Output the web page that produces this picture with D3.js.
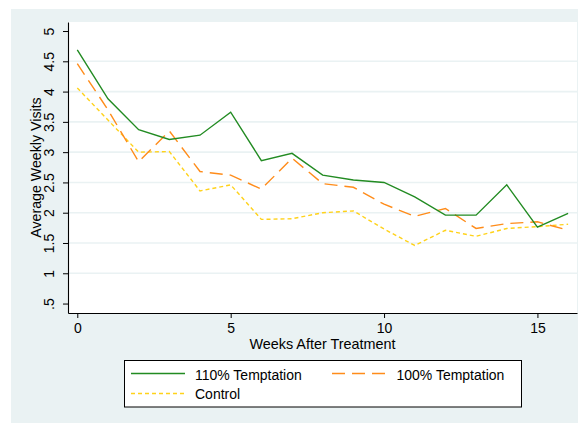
<!DOCTYPE html>
<html>
<head>
<meta charset="utf-8">
<script src="https://cdn.jsdelivr.net/npm/d3@7"></script>
<style>
  html, body { margin: 0; padding: 0; background: #ffffff; }
  svg { display: block; font-family: "Liberation Sans", Arial, Helvetica, sans-serif; }
</style>
</head>
<body>
<svg id="chart" width="578" height="423"></svg>
<script>
// ---- Data ----
const weeks = [0, 1, 2, 3, 4, 5, 6, 7, 8, 9, 10, 11, 12, 13, 14, 15, 16];
const temptation110 = [4.69, 3.88, 3.37, 3.21, 3.28, 3.66, 2.86, 2.98, 2.62, 2.54, 2.50, 2.26, 1.96, 1.96, 2.46, 1.76, 1.99];
const temptation100 = [4.46, 3.70, 2.84, 3.35, 2.68, 2.62, 2.39, 2.90, 2.48, 2.42, 2.14, 1.94, 2.07, 1.74, 1.82, 1.85, 1.71];
const control = [4.06, 3.53, 3.00, 3.01, 2.36, 2.46, 1.89, 1.90, 2.00, 2.03, 1.73, 1.46, 1.71, 1.61, 1.74, 1.77, 1.81];
const xTicks = [0, 5, 10, 15];
const yTicks = [0.5, 1, 1.5, 2, 2.5, 3, 3.5, 4, 4.5, 5];
const yTickLabels = [".5", "1", "1.5", "2", "2.5", "3", "3.5", "4", "4.5", "5"];
const seriesNames = ["110% Temptation", "100% Temptation", "Control"];
const xTitle = "Weeks After Treatment";
const yTitle = "Average Weekly Visits";

const series = [
  { name: seriesNames[0], values: temptation110, color: "#228b22", dash: null },
  { name: seriesNames[1], values: temptation100, color: "#ff8c1a", dash: "13,7" },
  { name: seriesNames[2], values: control, color: "#ffd21a", dash: "4,3" }
];

// ---- Layout ----
const svg = d3.select("#chart");
const bg = "#eaf2f3";
const plot = { left: 68, right: 577, top: 22, bottom: 313 };
const sy = 1.1; // vertical glyph stretch for legend

svg.append("rect").attr("x", 11).attr("y", 9).attr("width", 578 - 11).attr("height", 423 - 9).attr("fill", bg);
svg.append("rect").attr("x", plot.left).attr("y", plot.top)
  .attr("width", plot.right - plot.left).attr("height", plot.bottom - plot.top).attr("fill", "#ffffff");

const x = d3.scaleLinear().domain([-0.303, 16.29]).range([plot.left, plot.right]);
const y = d3.scaleLinear().domain([0.344, 5.149]).range([plot.bottom, plot.top]);

// gridlines (excluding extreme ticks)
svg.append("g").selectAll("line")
  .data(yTicks.filter(t => t > 0.5 && t < 5))
  .join("line")
  .attr("x1", plot.left).attr("x2", plot.right)
  .attr("y1", d => y(d)).attr("y2", d => y(d))
  .attr("stroke", bg).attr("stroke-width", 1.6);

// Y axis
const yAxis = svg.append("g").attr("transform", `translate(${plot.left},0)`)
  .call(d3.axisLeft(y).tickValues(yTicks).tickSize(5).tickSizeOuter(0).tickFormat((d, i) => yTickLabels[i]));
yAxis.select(".domain").attr("stroke", "#000").attr("stroke-width", 1.1);
yAxis.selectAll(".tick line").attr("stroke", "#000").attr("stroke-width", 1);
yAxis.selectAll(".tick text")
  .attr("x", null).attr("dy", null)
  .attr("transform", "translate(-14,0) rotate(-90)")
  .attr("text-anchor", "middle")
  .attr("font-size", 14).attr("fill", "#000")
  .style("font-family", "'Liberation Sans', Arial, sans-serif");

// X axis
const xAxis = svg.append("g").attr("transform", `translate(0,${plot.bottom})`)
  .call(d3.axisBottom(x).tickValues(xTicks).tickSize(5).tickSizeOuter(0));
xAxis.select(".domain").attr("stroke", "#000").attr("stroke-width", 1.1);
xAxis.selectAll(".tick text")
  .attr("y", 19.5).attr("dy", null)
  .attr("font-size", 14).attr("fill", "#000")
  .style("font-family", "'Liberation Sans', Arial, sans-serif");
xAxis.selectAll(".tick line").attr("stroke", "#000").attr("stroke-width", 1);

// Axis titles
svg.append("text")
  .attr("x", (plot.left + plot.right) / 2).attr("y", 349)
  .attr("text-anchor", "middle").attr("font-size", 14.4).attr("fill", "#000")
  .text(xTitle);
svg.append("text")
  .attr("transform", `translate(40.5,${(plot.top + plot.bottom) / 2}) rotate(-90)`)
  .attr("text-anchor", "middle").attr("font-size", 14.2).attr("fill", "#000")
  .text(yTitle);

// Lines
const line = d3.line().x((d, i) => x(weeks[i])).y(d => y(d));
svg.append("g").selectAll("path")
  .data(series.slice().reverse())
  .join("path")
  .attr("d", d => line(d.values))
  .attr("fill", "none")
  .attr("stroke", d => d.color)
  .attr("stroke-width", 1.4)
  .attr("stroke-dasharray", d => d.dash);

// Legend
const leg = svg.append("g");
leg.append("rect").attr("x", 124.5).attr("y", 360.5).attr("width", 397).attr("height", 46.5)
  .attr("fill", "#fff").attr("stroke", "#000").attr("stroke-width", 1);
const legPos = [
  { lx: 131, tx: 195, ly: 373.5, ty: 379.5 },
  { lx: 332, tx: 396.5, ly: 373.5, ty: 379.5 },
  { lx: 131, tx: 195, ly: 393.5, ty: 399 }
];
series.forEach((s, i) => {
  const p = legPos[i];
  leg.append("line").attr("x1", p.lx).attr("x2", p.lx + 54).attr("y1", p.ly).attr("y2", p.ly)
    .attr("stroke", s.color).attr("stroke-width", 1.4).attr("stroke-dasharray", s.dash);
  leg.append("text").attr("transform", `translate(${p.tx},${p.ty}) scale(1,${sy})`)
    .attr("font-size", 14).attr("fill", "#000").text(s.name);
});
</script>
</body>
</html>
